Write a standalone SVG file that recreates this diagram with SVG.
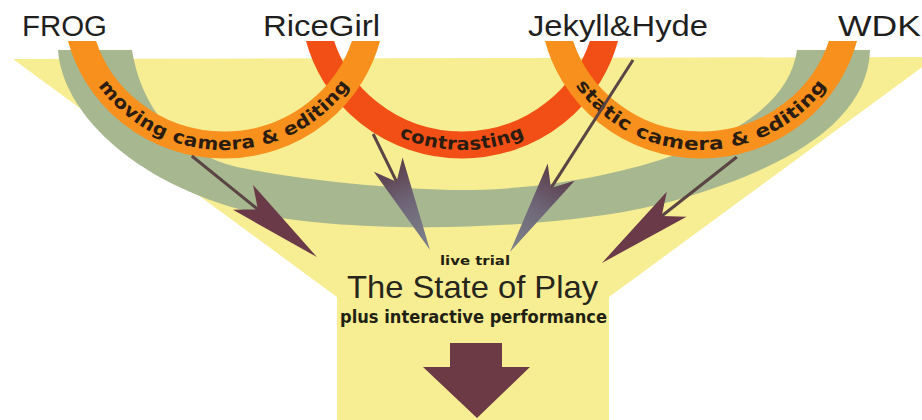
<svg xmlns="http://www.w3.org/2000/svg" width="922" height="420" viewBox="0 0 922 420">
<style>
.lbl{font-family:"Liberation Sans",Arial,sans-serif;font-size:30px;fill:#1f1f1f}
.arc{fill:none;stroke-width:27}
.orange{stroke:#f7901c}
.red{stroke:#f24f16}
.arctxt{font-family:"DejaVu Sans",Verdana,sans-serif;font-weight:bold;font-size:18px;fill:#2a1c10}
.shaft{fill:none;stroke:#5a4444;stroke-width:3}
.ctr{font-family:"DejaVu Sans",Verdana,sans-serif;font-weight:bold;fill:#1f1f14}
</style>
<defs>
<clipPath id="clipTop"><rect x="0" y="41" width="922" height="379"/></clipPath>
<path id="pL" d="M79.2,30 A148,145 0 0 0 368.8,30"/>
<path id="pC" d="M317.2,30 A148,145 0 0 0 606.8,30"/>
<path id="pR" d="M556.2,30 A148,145 0 0 0 845.8,30"/>
<linearGradient id="gHead" x1="0" y1="0" x2="1" y2="0">
<stop offset="0" stop-color="#5b3c4a"/>
<stop offset="0.45" stop-color="#6e6678"/>
<stop offset="1" stop-color="#80848a"/>
</linearGradient>
<marker id="headM" markerUnits="userSpaceOnUse" viewBox="-100 -20 110 40" refX="-70" refY="0" markerWidth="110" markerHeight="40" orient="auto" overflow="visible">
<path d="M0,0 L-95,-16 L-76,0 L-95,16 Z" fill="#6a3a48"/>
</marker>
<marker id="headG" markerUnits="userSpaceOnUse" viewBox="-100 -20 110 40" refX="-70" refY="0" markerWidth="110" markerHeight="40" orient="auto" overflow="visible">
<path d="M0,0 L-95,-16 L-76,0 L-95,16 Z" fill="url(#gHead)"/>
</marker>
</defs>
<rect width="922" height="420" fill="#ffffff"/>
<g id="funnel">
<polygon points="13,59 936,57 609,297 609,420 337,420 337,297" fill="#f7ed92"/>
</g>
<g id="band">
<path d="M58,50 C62,110 130,182 250,212 C340,234 560,234 680,199 C790,167 868,120 870,50 L797,50 C790,100 740,135 660,160 C580,185 500,191 450,190 C380,188 300,180 237,167 C170,150 140,100 132,50 Z" fill="#a7b78f"/>
</g>
<g id="contrasting" clip-path="url(#clipTop)">
<use href="#pC" class="arc red"/>
</g>
<g id="moving-camera" clip-path="url(#clipTop)">
<use href="#pL" class="arc orange"/>
</g>
<g id="static-camera" clip-path="url(#clipTop)">
<use href="#pR" class="arc orange"/>
</g>
<g id="arc-labels">
<text class="arctxt" dy="5"><textPath href="#pL" startOffset="50%" text-anchor="middle" textLength="284" lengthAdjust="spacingAndGlyphs">moving camera &amp; editing</textPath></text>
<text class="arctxt" dy="5"><textPath href="#pC" startOffset="50%" text-anchor="middle" textLength="126" lengthAdjust="spacingAndGlyphs">contrasting</textPath></text>
<text class="arctxt" dy="5"><textPath href="#pR" startOffset="50%" text-anchor="middle" textLength="284" lengthAdjust="spacingAndGlyphs">static camera &amp; editing</textPath></text>
</g>
<g id="FROG"><text class="lbl" x="22" y="36" textLength="85" lengthAdjust="spacingAndGlyphs">FROG</text></g>
<g id="RiceGirl"><text class="lbl" x="263" y="36" textLength="117" lengthAdjust="spacingAndGlyphs">RiceGirl</text></g>
<g id="JekyllHyde"><text class="lbl" x="528" y="36" textLength="180" lengthAdjust="spacingAndGlyphs">Jekyll&amp;Hyde</text></g>
<g id="WDK"><text class="lbl" x="838" y="36" textLength="83" lengthAdjust="spacingAndGlyphs">WDK</text></g>
<g id="connectors">
<line class="shaft" x1="191.8" y1="156" x2="262.5" y2="213.1" marker-end="url(#headM)"/>
<line class="shaft" x1="373.2" y1="134" x2="399.2" y2="187.1" marker-end="url(#headG)"/>
<line class="shaft" x1="633" y1="60" x2="547.7" y2="193.1" marker-end="url(#headG)"/>
<line class="shaft" x1="736.8" y1="157" x2="657" y2="219.7" marker-end="url(#headM)"/>
</g>
<g id="state-of-play">
<text class="ctr" x="475" y="265" font-size="13" text-anchor="middle" textLength="70" lengthAdjust="spacingAndGlyphs">live trial</text>
<text x="472.5" y="298" font-family="Liberation Sans, Arial, sans-serif" font-size="32" fill="#26261c" text-anchor="middle" textLength="251" lengthAdjust="spacingAndGlyphs">The State of Play</text>
<text class="ctr" x="473.5" y="323" font-size="17" text-anchor="middle" textLength="267" lengthAdjust="spacingAndGlyphs">plus interactive performance</text>
</g>
<g id="output-arrow">
<polygon points="450,343 502,343 502,367 530,367 477,418 423,367 450,367" fill="#6c3a44"/>
</g>
</svg>
